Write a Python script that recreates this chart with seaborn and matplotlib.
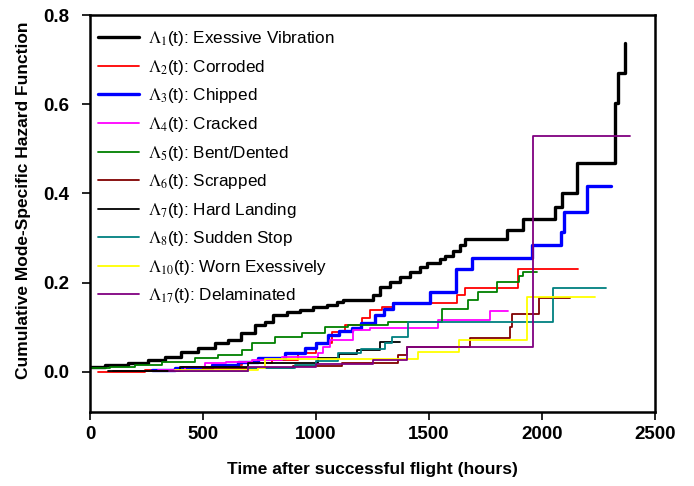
import pandas as pd
import matplotlib
matplotlib.use('Agg')
import matplotlib.pyplot as plt
import seaborn as sns

# 各失效模式的累积风险函数（阶梯曲线）
t1 = [0, 66, 168, 257, 332, 403, 478, 553, 611, 668, 730, 774, 810, 872, 929, 987, 1049, 1093,
      1120, 1252, 1283, 1327, 1372, 1416, 1460, 1491, 1549, 1571, 1606, 1637, 1659, 1845, 1916,
      2058, 2089, 2155, 2323, 2336, 2367]
h1 = [0.011, 0.016, 0.020, 0.027, 0.034, 0.045, 0.054, 0.065, 0.072, 0.087, 0.105, 0.112, 0.128,
      0.135, 0.139, 0.146, 0.150, 0.157, 0.161, 0.173, 0.190, 0.202, 0.213, 0.224, 0.235, 0.244,
      0.252, 0.260, 0.270, 0.285, 0.298, 0.318, 0.343, 0.370, 0.401, 0.469, 0.603, 0.670, 0.738]

t2 = [35, 243, 407, 540, 672, 805, 920, 1000, 1071, 1128, 1204, 1239, 1290, 1341, 1624, 1659, 1894, 2159]
h2 = [0.0, 0.004, 0.011, 0.016, 0.020, 0.027, 0.043, 0.065, 0.090, 0.105, 0.121, 0.139, 0.146,
      0.155, 0.173, 0.188, 0.231, 0.231]

t3 = [274, 376, 540, 655, 743, 863, 951, 1000, 1053, 1100, 1159, 1200, 1261, 1300, 1341, 1505,
      1620, 1690, 1956, 2084, 2097, 2199, 2305]
h3 = [0.005, 0.009, 0.016, 0.022, 0.031, 0.043, 0.054, 0.065, 0.083, 0.092, 0.099, 0.110, 0.128,
      0.140, 0.155, 0.180, 0.231, 0.256, 0.285, 0.314, 0.359, 0.417, 0.417]

t4 = [300, 420, 509, 600, 717, 850, 1009, 1031, 1062, 1164, 1239, 1540, 1770, 1850]
h4 = [0.005, 0.011, 0.020, 0.022, 0.027, 0.034, 0.043, 0.056, 0.072, 0.094, 0.099, 0.117, 0.137, 0.137]

t5 = [0, 90, 199, 318, 465, 566, 672, 717, 819, 938, 1040, 1142, 1319, 1558, 1673, 1717, 1801,
      1898, 1916, 1978]
h5 = [0.008, 0.010, 0.016, 0.022, 0.031, 0.038, 0.049, 0.065, 0.078, 0.087, 0.101, 0.105, 0.112,
      0.141, 0.161, 0.180, 0.202, 0.215, 0.224, 0.224]

t6 = [100, 500, 900, 1115, 1363, 1403, 1681, 1858, 1867, 1987, 2124]
h6 = [0.003, 0.008, 0.014, 0.020, 0.038, 0.056, 0.076, 0.101, 0.130, 0.166, 0.166]

t7 = [80, 400, 700, 1009, 1100, 1181, 1283, 1372]
h7 = [0.002, 0.010, 0.020, 0.031, 0.040, 0.049, 0.067, 0.067]

t8 = [420, 700, 907, 1000, 1097, 1200, 1305, 1336, 1407, 2049, 2283]
h8 = [0.003, 0.009, 0.016, 0.025, 0.043, 0.052, 0.065, 0.078, 0.112, 0.188, 0.188]

t10 = [376, 743, 774, 1450, 1633, 1934, 2235]
h10 = [0.004, 0.009, 0.029, 0.045, 0.072, 0.168, 0.168]

t17 = [350, 700, 1000, 1250, 1403, 1960, 2390]
h17 = [0.003, 0.010, 0.018, 0.027, 0.056, 0.529, 0.529]

labels = [r'$\Lambda_{1}$(t): Exessive Vibration', r'$\Lambda_{2}$(t): Corroded',
          r'$\Lambda_{3}$(t): Chipped', r'$\Lambda_{4}$(t): Cracked',
          r'$\Lambda_{5}$(t): Bent/Dented', r'$\Lambda_{6}$(t): Scrapped',
          r'$\Lambda_{7}$(t): Hard Landing', r'$\Lambda_{8}$(t): Sudden Stop',
          r'$\Lambda_{10}$(t): Worn Exessively', r'$\Lambda_{17}$(t): Delaminated']
colors = ['black', '#ff0000', '#0000ff', '#ff00ff', '#008000', '#800000', 'black', '#008080',
          '#ffff00', '#800080']
widths = [2.4, 1.3, 2.4, 1.3, 1.3, 1.3, 1.3, 1.3, 1.3, 1.3]

curves = [(t1, h1), (t2, h2), (t3, h3), (t4, h4), (t5, h5), (t6, h6), (t7, h7), (t8, h8),
          (t10, h10), (t17, h17)]

sns.set_style('ticks')
plt.rcParams['font.family'] = ['Liberation Sans', 'DejaVu Sans']
plt.rcParams['mathtext.fontset'] = 'stix'
plt.rcParams['text.color'] = 'black'
plt.rcParams['axes.labelcolor'] = 'black'
plt.rcParams['xtick.color'] = 'black'
plt.rcParams['ytick.color'] = 'black'

fig = plt.figure(figsize=(6.94, 4.86), dpi=100)
ax = fig.add_axes([0.1297, 0.1523, 0.8141, 0.8168])

for (t, h), lab, c, lw in zip(curves, labels, colors, widths):
    df = pd.DataFrame({'t': t, 'H': h})
    sns.lineplot(data=df, x='t', y='H', ax=ax, color=c, linewidth=lw, label=lab,
                 drawstyle='steps-post', sort=False, estimator=None)

ax.set_xlim(0, 2500)
ax.set_ylim(-0.09, 0.8)
ax.set_xticks([0, 500, 1000, 1500, 2000, 2500])
ax.set_yticks([0.0, 0.2, 0.4, 0.6, 0.8])
ax.set_yticklabels(['0.0', '0.2', '0.4', '0.6', '0.8'])
ax.tick_params(direction='out', length=6, width=1.2, labelsize=13.5, color='black')
ax.tick_params(axis='x', pad=4)
ax.tick_params(axis='y', pad=9)
for lbl in ax.get_xticklabels() + ax.get_yticklabels():
    lbl.set_fontweight('bold')
for s in ax.spines.values():
    s.set_linewidth(1.8)
    s.set_color('black')
    s.set_visible(True)

ax.set_xlabel('Time after successful flight (hours)', fontsize=12.5, fontweight='bold', labelpad=14)
ax.set_ylabel('Cumulative Mode-Specific Hazard Function', fontsize=12.5, fontweight='bold')
ax.yaxis.set_label_coords(-0.105, 0.534)

ax.legend(loc='upper left', bbox_to_anchor=(0.0035, 0.979), frameon=False, fontsize=12.3,
          handlelength=2.4, labelspacing=0.56, borderaxespad=0, handletextpad=0.5,
          borderpad=0.35)

plt.savefig('out.png', dpi=100)
plt.close()
